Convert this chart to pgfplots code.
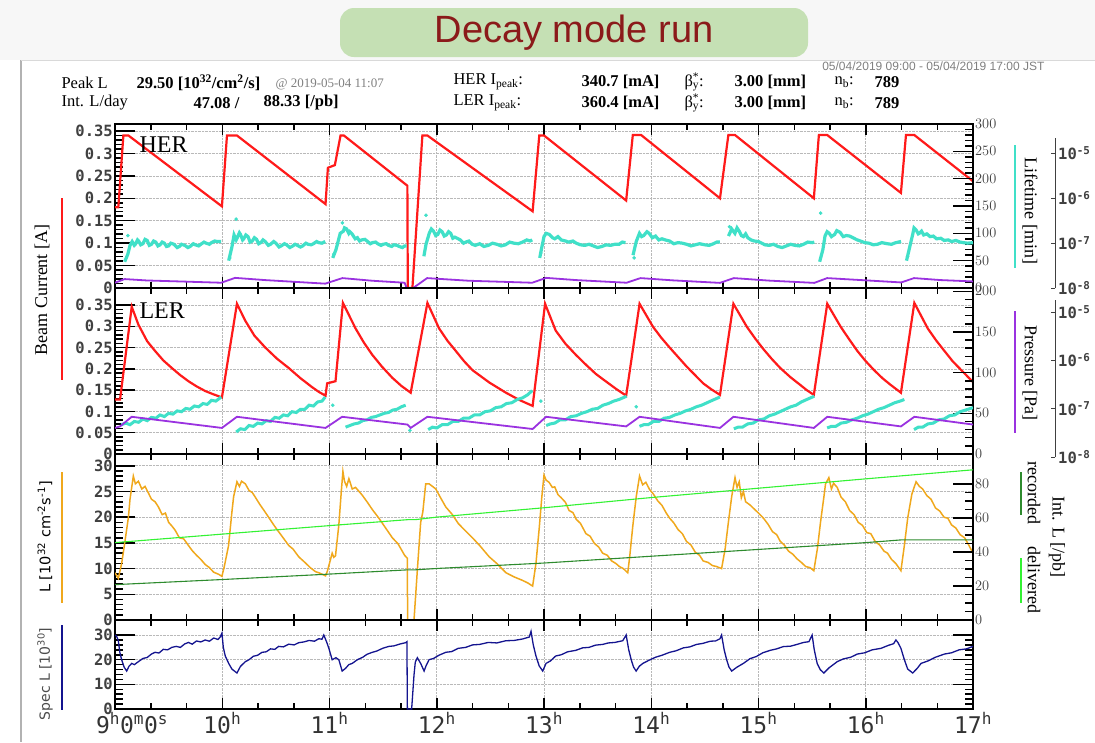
\documentclass[border=0pt]{standalone}
\usepackage{fontspec}
\setmainfont{Liberation Serif}
\newfontfamily\mono{DejaVu Sans Mono}
\newfontfamily\dvsans{DejaVu Sans}
\newfontfamily\lsans{Liberation Sans}
\usepackage{pgfplots}
\pgfplotsset{compat=1.18}
\definecolor{herred}{HTML}{FF1A1A}
\definecolor{cyanL}{HTML}{40E0C8}
\definecolor{purp}{HTML}{9A32E0}
\definecolor{orangeL}{HTML}{F0A81C}
\definecolor{dgreen}{HTML}{2E8B2E}
\definecolor{lgreen}{HTML}{33F233}
\definecolor{navyL}{HTML}{14148F}
\definecolor{banner}{HTML}{C5E0B4}
\definecolor{titlered}{HTML}{8B1A1A}
\definecolor{tickgray}{HTML}{404040}
\newcommand\tickfont{\mono\bfseries\fontsize{15.5}{16}\selectfont}
\newcommand\hdr{\fontsize{16.5}{17}\selectfont}
\pgfplotsset{
  panel/.style={scale only axis, width=858pt, xmin=9, xmax=17, anchor=south west,
    axis line style={line width=1.8pt, black},
    every tick/.append style={black, line width=1.5pt},
    tick align=inside, major tick length=20pt, minor tick length=8pt,
    xtick={9,10,...,17}, minor x tick num=2, xticklabels={},
    xtick style={/pgfplots/major tick length=11pt,/pgfplots/minor tick length=6pt},
    yticklabel style={font=\tickfont, text=tickgray, inner sep=2pt},
    grid style={densely dotted, gray!55, line width=0.7pt},
    xmajorgrids, ymajorgrids, ytick pos=left, unbounded coords=jump},
  rpanel/.style={scale only axis, width=858pt, xmin=9, xmax=17, anchor=south west,
    axis x line=none, axis y line=right, y axis line style={-, line width=1.8pt, black},
    every tick/.append style={black, line width=1.5pt},
    tick align=inside, major tick length=20pt, minor tick length=8pt,
    yticklabel style={font=\tickfont, text=tickgray, inner sep=2pt}, unbounded coords=jump},
  logpanel/.style={scale only axis, width=940pt, xmin=9, xmax=17.7646, anchor=south west,
    axis x line=none, axis y line=right, y axis line style={-, line width=0.9pt, black!75},
    yminorticks=false, ytick={1e-8,1e-7,1e-6,1e-5},
    yticklabels={10\textsuperscript{-8},10\textsuperscript{-7},10\textsuperscript{-6},10\textsuperscript{-5}},
    every tick/.append style={black!75, line width=0.9pt}, tick align=inside, major tick length=4pt,
    yticklabel style={font=\tickfont, text=tickgray, inner sep=3pt}},
}
\begin{document}
\begin{tikzpicture}
\useasboundingbox (0,0) rectangle (1095pt,-742pt);
\fill[white] (0,0) rectangle (1095pt,-742pt);
\fill[gray!6] (0,0) rectangle (1095pt,-60pt);
\draw[gray!60, line width=1.2pt] (21pt,-60pt) -- (21pt,-742pt);
\draw[gray!30, line width=0.8pt] (21pt,-60pt) -- (1095pt,-60pt);
% date and banner
\node[anchor=east, font=\lsans\fontsize{12}{12}\selectfont, text=gray] at (1048pt,-66pt) {05/04/2019 09:00 - 05/04/2019 17:00 JST};
\fill[banner, rounded corners=14pt] (340pt,-8pt) rectangle (808pt,-57pt);
\node[font=\lsans\fontsize{38}{40}\selectfont, text=titlered] at (574pt,-33pt) {Decay mode run};
% header
\node[anchor=west, font=\hdr] at (58pt,-83pt) {Peak L};
\node[anchor=west, font=\hdr\bfseries] at (133pt,-83pt) {29.50 [10\textsuperscript{32}/cm\textsuperscript{2}/s]};
\node[anchor=west, font=\fontsize{13}{13}\selectfont, text=gray] at (272pt,-84pt) {@ 2019-05-04 11:07};
\node[anchor=west, font=\hdr] at (58pt,-103pt) {Int. L/day};
\node[anchor=west, font=\hdr\bfseries] at (190pt,-103pt) {47.08 /};
\node[anchor=west, font=\hdr\bfseries] at (260pt,-103pt) {88.33 [/pb]};
\node[anchor=west, font=\hdr] at (450pt,-82pt) {HER I\textsubscript{peak}:};
\node[anchor=west, font=\hdr] at (450pt,-103pt) {LER I\textsubscript{peak}:};
\node[anchor=west, font=\hdr\bfseries] at (578pt,-82pt) {340.7 [mA]};
\node[anchor=west, font=\hdr\bfseries] at (578pt,-103pt) {360.4 [mA]};
\node[anchor=west, font=\hdr] at (681pt,-82pt) {β\makebox[0pt][l]{\textsuperscript{*}}\textsubscript{y}:};
\node[anchor=west, font=\hdr] at (681pt,-103pt) {β\makebox[0pt][l]{\textsuperscript{*}}\textsubscript{y}:};
\node[anchor=west, font=\hdr\bfseries] at (731pt,-82pt) {3.00 [mm]};
\node[anchor=west, font=\hdr\bfseries] at (731pt,-103pt) {3.00 [mm]};
\node[anchor=west, font=\hdr] at (831pt,-82pt) {n\textsubscript{b}:};
\node[anchor=west, font=\hdr] at (831pt,-103pt) {n\textsubscript{b}:};
\node[anchor=west, font=\hdr\bfseries] at (871pt,-82pt) {789};
\node[anchor=west, font=\hdr\bfseries] at (871pt,-103pt) {789};

% ===== Panel 1 : HER =====
\begin{axis}[panel, at={(115pt,-288pt)}, height=164pt, ymin=0, ymax=0.3656,
  ytick={0,0.05,0.1,0.15,0.2,0.25,0.3,0.35}, yticklabels={0,0.05,0.1,0.15,0.2,0.25,0.3,0.35}, minor y tick num=4]
\addplot[herred, line width=2.2pt] coordinates {(9.000,0.180)(9.031,0.180)(9.078,0.340)(9.125,0.340)(9.997,0.182)(10.044,0.340)(10.137,0.340)(10.963,0.187)(10.985,0.268)(11.050,0.274)(11.103,0.340)(11.134,0.340)(11.726,0.228)(11.730,0.0)(11.773,0.0)(11.866,0.340)(11.913,0.340)(12.894,0.171)(12.956,0.340)(13.000,0.340)(13.766,0.195)(13.828,0.341)(13.906,0.341)(14.641,0.200)(14.719,0.341)(14.781,0.341)(15.516,0.200)(15.563,0.341)(15.641,0.341)(16.328,0.212)(16.375,0.341)(16.453,0.341)(17.000,0.238)};
\end{axis}
\begin{axis}[rpanel, at={(115pt,-288pt)}, height=164pt, ymin=0, ymax=300, ytick={0,50,...,300}, minor y tick num=4]
\addplot[cyanL, line width=3.2pt] coordinates {(9.09,48)(9.12,62)(9.14,78)(9.16,85)(9.18,78)(9.19,80)(9.21,88)(9.22,86)(9.24,79)(9.26,81)(9.28,89)(9.30,87)(9.32,78)(9.34,80)(9.36,86)(9.38,84)(9.40,77)(9.42,79)(9.44,84)(9.46,82)(9.48,76)(9.50,77)(9.52,82)(9.55,80)(9.58,74)(9.60,76)(9.62,80)(9.65,78)(9.68,74)(9.70,76)(9.73,81)(9.75,79)(9.78,77)(9.80,80)(9.83,84)(9.85,82)(9.88,80)(9.90,83)(9.93,86)(9.95,85)(9.99,85)(10.0,nan)
(10.06,50)(10.09,75)(10.11,97)(10.13,88)(10.14,92)(10.16,101)(10.17,98)(10.19,88)(10.20,90)(10.22,97)(10.24,94)(10.26,84)(10.28,86)(10.30,92)(10.32,89)(10.34,81)(10.36,83)(10.38,88)(10.40,85)(10.43,78)(10.45,80)(10.48,85)(10.50,82)(10.53,75)(10.55,77)(10.58,81)(10.60,79)(10.63,74)(10.65,76)(10.68,80)(10.70,78)(10.73,75)(10.75,77)(10.78,82)(10.80,80)(10.83,79)(10.85,81)(10.88,85)(10.90,83)(10.93,82)(10.96,85)(10.97,nan)
(11.03,55)(11.06,70)(11.10,100)(11.13,104)(11.14,110)(11.16,108)(11.18,100)(11.19,103)(11.21,99)(11.22,96)(11.24,90)(11.26,92)(11.28,86)(11.30,88)(11.33,89)(11.35,86)(11.38,81)(11.40,83)(11.43,84)(11.45,81)(11.48,78)(11.50,80)(11.53,81)(11.55,78)(11.58,76)(11.60,79)(11.63,78)(11.65,76)(11.68,74)(11.70,77)(11.72,77)(11.73,nan)
(11.88,58)(11.90,80)(11.93,100)(11.95,108)(11.97,104)(11.99,96)(12.01,98)(12.03,106)(12.05,103)(12.07,95)(12.09,97)(12.11,103)(12.13,100)(12.15,91)(12.17,93)(12.20,90)(12.22,88)(12.25,82)(12.27,84)(12.30,86)(12.33,80)(12.36,78)(12.40,81)(12.44,76)(12.48,78)(12.52,82)(12.56,80)(12.60,77)(12.64,79)(12.68,84)(12.72,82)(12.76,81)(12.80,84)(12.84,88)(12.87,86)(12.89,88)(12.90,nan)
(12.96,55)(12.98,75)(13.00,94)(13.02,100)(13.05,98)(13.08,92)(13.10,90)(13.13,94)(13.16,88)(13.20,86)(13.23,84)(13.27,86)(13.30,82)(13.34,79)(13.38,78)(13.42,80)(13.46,77)(13.50,74)(13.54,76)(13.58,79)(13.62,78)(13.66,80)(13.70,80)(13.73,84)(13.76,83)(13.77,nan)
(13.83,60)(13.86,85)(13.89,100)(13.91,94)(13.93,96)(13.96,103)(13.98,100)(14.01,92)(14.04,95)(14.07,88)(14.10,90)(14.13,88)(14.17,86)(14.21,81)(14.25,83)(14.29,82)(14.33,80)(14.37,77)(14.41,79)(14.45,81)(14.50,79)(14.54,78)(14.58,81)(14.61,84)(14.64,84)(14.65,nan)
(14.72,95)(14.75,108)(14.78,100)(14.80,110)(14.82,104)(14.84,96)(14.86,94)(14.88,99)(14.90,92)(14.93,88)(14.96,86)(15.00,85)(15.03,82)(15.06,79)(15.10,78)(15.14,80)(15.18,76)(15.22,74)(15.26,77)(15.30,80)(15.34,78)(15.38,77)(15.42,80)(15.46,84)(15.50,83)(15.52,84)(15.53,nan)
(15.57,48)(15.60,70)(15.62,95)(15.64,103)(15.66,100)(15.68,94)(15.71,98)(15.73,105)(15.76,102)(15.79,94)(15.82,96)(15.85,95)(15.88,92)(15.92,88)(15.95,86)(15.99,83)(16.03,82)(16.07,79)(16.11,80)(16.15,83)(16.20,81)(16.24,80)(16.28,83)(16.33,85)(16.34,nan)
(16.38,50)(16.41,75)(16.44,100)(16.45,110)(16.47,106)(16.49,99)(16.50,100)(16.52,104)(16.54,97)(16.57,99)(16.60,94)(16.63,95)(16.66,90)(16.70,91)(16.73,87)(16.77,88)(16.80,85)(16.84,87)(16.88,84)(16.91,83)(16.95,82)(17.0,83)};
\addplot[only marks, mark=*, mark size=1.6pt, cyanL] coordinates {(9.12,96)(10.13,126)(10.07,55)(11.12,119)(11.04,62)(11.90,133)(12.97,64)(13.84,55)(14.73,112)(15.58,137)(16.39,58)};
\end{axis}
\begin{axis}[logpanel, ymode=log, at={(115pt,-288pt)}, height=150pt, ymin=1e-8, ymax=2.154e-5]
\addplot[purp, line width=1.8pt] coordinates {(9.0,1.31e-8)(9.09,1.58e-8)(9.3,1.47e-8)(9.6,1.40e-8)(9.99,1.31e-8)(10.12,1.68e-8)(10.4,1.50e-8)(10.96,1.25e-8)(11.12,1.66e-8)(11.4,1.45e-8)(11.70,1.31e-8)(11.72,1.0e-8)(11.78,1.0e-8)(11.91,1.66e-8)(12.3,1.45e-8)(12.89,1.31e-8)(13.02,1.68e-8)(13.3,1.50e-8)(13.77,1.31e-8)(13.90,1.66e-8)(14.2,1.48e-8)(14.64,1.30e-8)(14.77,1.66e-8)(15.1,1.46e-8)(15.52,1.30e-8)(15.64,1.66e-8)(16.0,1.48e-8)(16.33,1.33e-8)(16.45,1.66e-8)(16.7,1.50e-8)(17.0,1.40e-8)};
\end{axis}

% ===== Panel 2 : LER =====
\begin{axis}[panel, at={(115pt,-454pt)}, height=166pt, ymin=0, ymax=0.39,
  ytick={0,0.05,0.1,0.15,0.2,0.25,0.3,0.35}, yticklabels={0,0.05,0.1,0.15,0.2,0.25,0.3,0.35}, minor y tick num=4]
\addplot[herred, line width=2.2pt] coordinates {(9.000,0.128)(9.047,0.128)(9.156,0.346)(9.218,0.304)(9.30,0.265)(9.374,0.242)(9.45,0.220)(9.530,0.202)(9.61,0.185)(9.685,0.171)(9.76,0.159)(9.841,0.148)(9.92,0.140)(9.997,0.133)(10.137,0.353)(10.215,0.313)(10.30,0.278)(10.402,0.250)(10.51,0.224)(10.620,0.202)(10.73,0.178)(10.838,0.157)(10.90,0.146)(10.963,0.137)(10.978,0.166)(11.056,0.171)(11.125,0.355)(11.243,0.295)(11.32,0.262)(11.399,0.233)(11.49,0.205)(11.586,0.179)(11.67,0.160)(11.757,0.144)(11.913,0.355)(12.022,0.295)(12.10,0.266)(12.178,0.242)(12.255,0.218)(12.333,0.197)(12.49,0.168)(12.645,0.144)(12.77,0.127)(12.894,0.113)(13.010,0.353)(13.109,0.290)(13.20,0.259)(13.297,0.233)(13.39,0.210)(13.484,0.188)(13.58,0.170)(13.672,0.153)(13.766,0.137)(13.891,0.353)(14.016,0.299)(14.094,0.273)(14.172,0.250)(14.25,0.228)(14.328,0.206)(14.41,0.185)(14.484,0.166)(14.56,0.152)(14.641,0.139)(14.766,0.353)(14.891,0.299)(14.97,0.271)(15.047,0.246)(15.125,0.223)(15.203,0.202)(15.30,0.180)(15.391,0.162)(15.45,0.150)(15.516,0.139)(15.641,0.353)(15.766,0.299)(15.844,0.270)(15.922,0.242)(16.00,0.218)(16.078,0.197)(16.156,0.178)(16.234,0.162)(16.328,0.144)(16.453,0.355)(16.578,0.295)(16.656,0.267)(16.734,0.242)(16.81,0.218)(16.891,0.197)(17.000,0.169)};
\end{axis}
\begin{axis}[rpanel, at={(115pt,-454pt)}, height=166pt, ymin=0, ymax=204, ytick={0,50,100,150,200}, minor y tick num=4]
\addplot[cyanL, line width=3pt] coordinates {(9.06,36)(9.10,38)(9.14,36)(9.18,40)(9.22,39)(9.26,43)(9.30,41)(9.34,45)(9.38,44)(9.42,48)(9.46,46)(9.50,50)(9.54,49)(9.58,53)(9.62,52)(9.66,56)(9.70,55)(9.74,59)(9.78,58)(9.82,62)(9.86,61)(9.90,66)(9.94,65)(9.99,70)(10.0,nan)
(10.13,27)(10.17,31)(10.21,30)(10.25,35)(10.29,34)(10.33,38)(10.37,37)(10.41,41)(10.45,40)(10.49,45)(10.53,44)(10.57,48)(10.61,47)(10.65,52)(10.69,51)(10.73,55)(10.77,55)(10.81,60)(10.85,59)(10.89,64)(10.93,65)(10.96,70)(10.97,nan)
(11.15,33)(11.19,35)(11.23,37)(11.27,38)(11.31,41)(11.35,42)(11.39,45)(11.43,46)(11.47,48)(11.51,50)(11.55,51)(11.59,54)(11.63,55)(11.67,58)(11.71,60)(11.72,nan)
(11.92,30)(11.96,33)(12.00,32)(12.05,36)(12.10,36)(12.15,40)(12.20,40)(12.25,44)(12.30,44)(12.35,48)(12.40,48)(12.45,52)(12.50,53)(12.55,57)(12.60,58)(12.65,62)(12.70,63)(12.75,67)(12.80,69)(12.85,73)(12.89,78)(12.90,nan)
(13.02,35)(13.06,37)(13.10,38)(13.15,42)(13.20,42)(13.25,46)(13.30,47)(13.35,50)(13.40,52)(13.45,55)(13.50,56)(13.55,60)(13.60,62)(13.65,65)(13.70,67)(13.77,71)(13.78,nan)
(13.89,34)(13.93,36)(13.97,36)(14.02,40)(14.07,40)(14.12,44)(14.17,45)(14.22,48)(14.27,50)(14.32,53)(14.37,55)(14.42,58)(14.47,60)(14.52,63)(14.57,66)(14.64,70)(14.65,nan)
(14.77,31)(14.81,33)(14.85,33)(14.90,37)(14.95,38)(15.00,42)(15.05,43)(15.10,47)(15.15,49)(15.20,52)(15.25,55)(15.30,58)(15.35,60)(15.40,64)(15.45,67)(15.52,71)(15.53,nan)
(15.64,32)(15.68,34)(15.72,34)(15.77,38)(15.82,39)(15.87,42)(15.92,44)(15.97,47)(16.02,49)(16.07,52)(16.12,55)(16.17,57)(16.22,60)(16.27,63)(16.32,65)(16.36,67)(16.37,nan)
(16.45,30)(16.49,33)(16.53,33)(16.58,37)(16.63,38)(16.68,42)(16.73,43)(16.78,47)(16.83,48)(16.88,52)(16.93,54)(17.0,57)};
\addplot[only marks, mark=*, mark size=1.6pt, cyanL] coordinates {(11.03,60)(11.75,29)(12.97,65)(13.86,58)};
\end{axis}
\begin{axis}[logpanel, ymode=log, at={(115pt,-457pt)}, height=157pt, ymin=1e-8, ymax=1.778e-5]
\addplot[purp, line width=1.8pt] coordinates {(9.0,4.0e-8)(9.047,4.3e-8)(9.156,6.8e-8)(9.997,4.0e-8)(10.137,6.8e-8)(10.963,4.0e-8)(11.118,6.8e-8)(11.726,4.7e-8)(11.757,4.0e-8)(11.913,6.8e-8)(12.894,3.8e-8)(13.019,6.8e-8)(13.766,4.3e-8)(13.891,6.8e-8)(14.641,4.0e-8)(14.766,6.8e-8)(15.516,4.0e-8)(15.641,6.8e-8)(16.328,4.3e-8)(16.453,6.8e-8)(17.0,4.7e-8)};
\end{axis}

% ===== Panel 3 : Luminosity =====
\begin{axis}[panel, at={(115pt,-620pt)}, height=166pt, ymin=0, ymax=32.3,
  ytick={0,5,10,15,20,25,30}, yticklabels={0,5,10,15,20,25,30}, minor y tick num=4]
\addplot[orangeL, line width=1.5pt] coordinates {(9.000,9.2)(9.031,8.1)(9.062,11)(9.093,15.3)(9.125,20)(9.140,23.5)(9.171,28)(9.19,26.5)(9.218,27)(9.25,25.5)(9.28,26)(9.312,24.7)(9.34,23.5)(9.374,23)(9.405,22)(9.44,20.5)(9.47,20.8)(9.50,19)(9.53,18.3)(9.56,17.5)(9.60,16)(9.64,15.8)(9.685,14.5)(9.72,13.5)(9.76,12.6)(9.80,11.8)(9.841,10.8)(9.88,10.2)(9.92,9.3)(9.966,8.9)(9.997,8.5)
(10.02,10.5)(10.059,14.5)(10.09,21)(10.106,24)(10.137,26.9)(10.16,26)(10.18,27)(10.215,26.5)(10.25,25.2)(10.28,24.8)(10.308,23.9)(10.35,22.5)(10.40,21)(10.464,19)(10.50,17.9)(10.55,16.5)(10.620,14.5)(10.66,13.8)(10.713,12.3)(10.776,11.1)(10.82,10.2)(10.87,9.4)(10.90,9.2)(10.963,8.6)
(10.98,9.5)(11.025,13)(11.04,12.2)(11.056,12.5)(11.087,18.5)(11.11,25)(11.125,28.9)(11.14,27)(11.16,26)(11.181,27.5)(11.212,25.5)(11.243,25.8)(11.305,24.3)(11.35,23)(11.399,21.5)(11.461,19.8)(11.52,18)(11.586,16)(11.64,14.8)(11.70,12.6)(11.726,12)(11.728,0)(11.788,0)
(11.82,10)(11.850,19)(11.87,21)(11.897,26.5)(11.928,26.5)(11.96,26)(11.991,25.5)(12.03,24)(12.084,22)(12.146,20.5)(12.20,18.8)(12.26,17.5)(12.333,16)(12.40,14.5)(12.489,12.3)(12.56,11)(12.645,9.2)(12.72,8.4)(12.801,7.7)(12.85,7.2)(12.894,6.6)
(12.925,11)(12.956,18)(12.98,24)(13.00,28.2)(13.02,27.2)(13.047,26.8)(13.078,25.8)(13.10,25.9)(13.13,24.4)(13.16,23.8)(13.20,22.9)(13.234,21.3)(13.27,20.9)(13.30,19.6)(13.34,18.8)(13.391,16.8)(13.43,16.3)(13.47,14.9)(13.51,14.2)(13.547,13.0)(13.59,12.6)(13.63,11.5)(13.67,11.0)(13.703,10.4)(13.74,10.0)(13.781,9.2)
(13.80,12.5)(13.828,18.3)(13.86,24)(13.891,28.0)(13.92,26.3)(13.95,26.8)(13.984,25.4)(14.02,24.5)(14.06,23.2)(14.10,22.3)(14.14,20.8)(14.172,19.8)(14.21,18.9)(14.25,17.6)(14.29,16.8)(14.328,15.3)(14.37,14.6)(14.41,13.2)(14.45,12.6)(14.484,11.5)(14.53,11.2)(14.57,10.6)(14.61,10.4)(14.656,10.0)
(14.69,14)(14.719,19.0)(14.75,24)(14.781,27.7)(14.80,25.8)(14.82,26.9)(14.84,23.8)(14.859,25.0)(14.88,23.0)(14.92,22.4)(14.96,21.6)(15.00,20.8)(15.047,19.8)(15.09,18.6)(15.13,17.2)(15.17,16.6)(15.203,15.3)(15.24,14.6)(15.28,13.4)(15.32,12.8)(15.359,11.9)(15.40,11.2)(15.44,10.4)(15.48,10.2)(15.516,9.6)
(15.55,14)(15.578,19)(15.61,24)(15.625,26.5)(15.656,27.7)(15.68,25.5)(15.70,26.6)(15.734,25.8)(15.77,23.9)(15.81,23.0)(15.85,21.3)(15.891,20.5)(15.93,19.0)(15.97,18.4)(16.01,17.0)(16.047,16.8)(16.09,15.2)(16.13,14.6)(16.17,13.4)(16.203,13.0)(16.24,11.8)(16.28,11.0)(16.328,9.6)
(16.36,14.5)(16.391,19.8)(16.43,24.5)(16.469,26.9)(16.50,26.0)(16.53,25.5)(16.57,24.2)(16.609,23.5)(16.65,21.8)(16.69,21.2)(16.73,20.0)(16.766,19.8)(16.80,18.5)(16.84,17.9)(16.88,16.6)(16.922,16.0)(16.96,14.6)(17.0,13.0)};
\end{axis}
\begin{axis}[rpanel, at={(115pt,-620pt)}, height=166pt, ymin=0, ymax=97.6, ytick={0,20,40,60,80}, minor y tick num=3]
\addplot[lgreen, line width=1.1pt] coordinates {(9.0,45.5)(10.0,50.5)(11.0,55.5)(11.73,59)(11.80,59)(12.0,60.5)(13.0,66)(14.0,72)(15.0,77.5)(16.0,83)(17.0,88.3)};
\addplot[dgreen, line width=1.1pt] coordinates {(9.0,20.8)(10.0,23.8)(11.0,27)(11.73,29.5)(11.80,29.5)(12.0,30.3)(13.0,33.5)(14.0,37.5)(15.0,41.5)(16.0,45.5)(16.33,47.1)(17.0,47.1)};
\end{axis}

% ===== Panel 4 : Spec L =====
\begin{axis}[panel, at={(115pt,-709pt)}, height=89pt, ymin=0, ymax=36.1,
  ytick={0,10,20,30}, yticklabels={0,10,20,30}, minor y tick num=4, ytick pos=both, yticklabel pos=left,
  xticklabels={\makebox[0pt][l]{\hspace{-19pt}9\textsuperscript{h}0\textsuperscript{m}0\textsuperscript{s}},10\textsuperscript{h},11\textsuperscript{h},12\textsuperscript{h},13\textsuperscript{h},14\textsuperscript{h},15\textsuperscript{h},16\textsuperscript{h},17\textsuperscript{h}},
  xticklabel style={font=\mono\fontsize{23}{24}\selectfont, text=black!80, inner sep=3pt}]
\addplot[navyL, line width=1.3pt] coordinates {(9.0,30)(9.015,29.5)(9.031,27.7)(9.045,23)(9.062,20)(9.085,17)(9.109,15.4)(9.13,17.3)(9.156,18.5)(9.18,18.0)(9.218,19.2)(9.26,20.5)(9.30,20.9)(9.34,22.3)(9.374,23)(9.41,22.7)(9.45,24.2)(9.49,24.0)(9.530,25)(9.57,25.4)(9.61,25.0)(9.65,26.4)(9.685,27)(9.72,26.3)(9.76,27.6)(9.80,27.2)(9.841,28)(9.88,27.5)(9.92,28.8)(9.96,28.2)(9.981,29.2)(9.997,30.8)
(10.01,25)(10.028,21.5)(10.06,18.5)(10.090,16.2)(10.137,14.6)(10.17,17.3)(10.215,19.2)(10.25,20.0)(10.29,21.4)(10.33,21.8)(10.371,23)(10.41,23.2)(10.45,24.4)(10.49,24.2)(10.526,25.4)(10.57,25.2)(10.62,26.3)(10.67,26.0)(10.713,26.9)(10.76,27.2)(10.81,27.8)(10.86,27.5)(10.900,28.5)(10.93,28.3)(10.947,30)
(10.975,27)(10.994,24.6)(11.025,20)(11.06,20.8)(11.087,20)(11.118,15.4)(11.15,16.5)(11.18,18.0)(11.212,18.5)(11.26,20.0)(11.31,21.0)(11.35,22.2)(11.399,23)(11.44,23.5)(11.50,24.7)(11.554,25.4)(11.60,25.6)(11.66,26.4)(11.710,26.9)(11.722,27.3)(11.726,0)(11.766,0)(11.788,13.8)(11.80,19)(11.819,20.8)(11.850,18.5)(11.882,15.4)(11.90,17.5)(11.928,20)(11.97,20.5)(12.02,21.8)(12.084,23)(12.14,23.3)(12.20,24.6)(12.27,25.0)(12.333,26)(12.40,26.2)(12.48,27.0)(12.56,26.8)(12.645,27.7)(12.72,27.8)(12.80,28.4)(12.863,29.2)(12.879,31.5)
(12.90,26)(12.925,21.5)(12.955,17.5)(12.988,15.4)(13.019,18.5)(13.06,19.5)(13.109,21.5)(13.16,22.0)(13.22,23.2)(13.297,23.8)(13.36,24.8)(13.42,25.0)(13.48,25.9)(13.547,26.2)(13.60,26.8)(13.66,27.0)(13.734,27.7)(13.766,30)
(13.79,24)(13.813,20)(13.835,17)(13.859,15.4)(13.89,17.4)(13.922,18.5)(13.98,19.8)(14.04,21.0)(14.10,21.8)(14.172,23)(14.23,23.6)(14.30,24.8)(14.36,25.2)(14.422,26.2)(14.48,26.6)(14.55,27.5)(14.60,27.6)(14.641,28.5)(14.656,30)
(14.68,24)(14.703,20)(14.725,17)(14.750,15.4)(14.80,17)(14.859,18.5)(14.92,20.4)(14.98,21.3)(15.04,22.8)(15.109,23.8)(15.17,24.4)(15.23,25.3)(15.30,25.5)(15.359,26.2)(15.42,27.0)(15.47,27.3)(15.50,30)
(15.52,24)(15.547,18.5)(15.575,16)(15.609,14.6)(15.66,16.8)(15.734,19.2)(15.79,20.3)(15.86,21.0)(15.922,22.3)(15.99,22.8)(16.06,24.0)(16.141,24.6)(16.21,25.8)(16.26,26.5)(16.281,28)(16.30,27)(16.328,24.6)(16.36,20)(16.391,16.2)(16.438,14.6)(16.48,16.5)(16.516,18.5)(16.58,19.5)(16.65,21.0)(16.734,22.3)(16.80,22.8)(16.87,24.0)(16.94,24.4)(17.0,25.4)};
\end{axis}

% panel titles
\node[anchor=west, font=\fontsize{24}{24}\selectfont] at (136pt,-145pt) {HER};
\node[anchor=west, font=\fontsize{24}{24}\selectfont] at (136pt,-311pt) {LER};
% left labels
\node[rotate=90, font=\fontsize{18}{18}\selectfont] at (42pt,-290pt) {Beam Current [A]};
\draw[herred, line width=2pt] (62pt,-198pt) -- (62pt,-380pt);
\node[rotate=90, font=\dvsans\fontsize{14.5}{14.5}\selectfont] at (45pt,-537pt) {L [10\textsuperscript{32} cm\textsuperscript{-2}s\textsuperscript{-1}]};
\draw[orangeL, line width=2pt] (62pt,-472pt) -- (62pt,-603pt);
\node[rotate=90, font=\dvsans\fontsize{14}{14}\selectfont, text=black!70] at (45pt,-674pt) {Spec L [10\textsuperscript{30}]};
\draw[navyL, line width=2pt] (62pt,-625pt) -- (62pt,-710pt);
% right labels
\node[rotate=-90, font=\fontsize{18}{18}\selectfont] at (1030pt,-211pt) {Lifetime [min]};
\draw[cyanL, line width=2pt] (1015pt,-145pt) -- (1015pt,-268pt);
\node[rotate=-90, font=\fontsize{18}{18}\selectfont] at (1030pt,-373pt) {Pressure [Pa]};
\draw[purp, line width=2pt] (1015pt,-311pt) -- (1015pt,-433pt);
\node[rotate=-90, font=\fontsize{18}{18}\selectfont] at (1057pt,-537pt) {Int. L [/pb]};
\node[rotate=-90, font=\fontsize{18}{18}\selectfont] at (1034pt,-493pt) {recorded};
\draw[dgreen, line width=2pt] (1021pt,-472pt) -- (1021pt,-515pt);
\node[rotate=-90, font=\fontsize{18}{18}\selectfont] at (1034pt,-580pt) {delivered};
\draw[lgreen, line width=2pt] (1021pt,-558pt) -- (1021pt,-603pt);
\end{tikzpicture}
\end{document}
